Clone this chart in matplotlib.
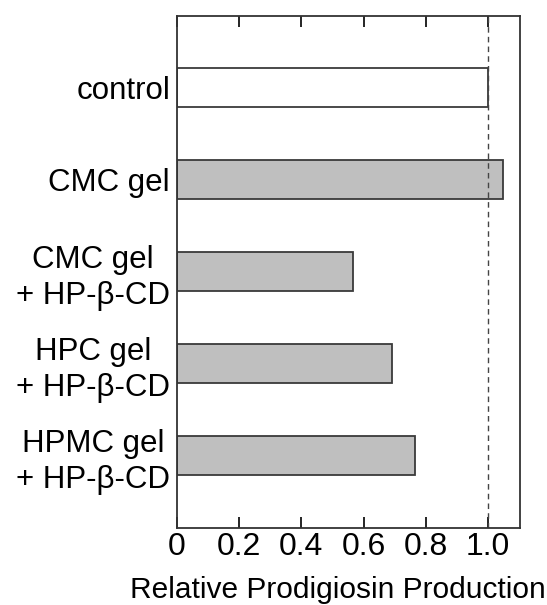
import matplotlib
matplotlib.use('Agg')
import matplotlib.pyplot as plt

plt.rcParams['font.family'] = ['Liberation Sans', 'DejaVu Sans']

# Data (top to bottom)
labels = ['control', 'CMC gel', 'CMC gel\n+ HP-β-CD', 'HPC gel\n+ HP-β-CD', 'HPMC gel\n+ HP-β-CD']
values = [1.0, 1.048, 0.566, 0.69, 0.765]
colors = ['white', '#bfbfbf', '#bfbfbf', '#bfbfbf', '#bfbfbf']
xticks = [0, 0.2, 0.4, 0.6, 0.8, 1.0]
xticklabels = ['0', '0.2', '0.4', '0.6', '0.8', '1.0']

fig = plt.figure(figsize=(5.47, 6.05), dpi=100)
ax = fig.add_axes([0.3236, 0.1273, 0.6270, 0.8463])

pos = list(range(len(labels)))
ax.barh(pos, values, height=0.43, color=colors, edgecolor='#3a3a3a', linewidth=1.3)

# reference line at 1.0
ax.axvline(1.0, color='#444444', linestyle=(0, (4, 3)), linewidth=1.0)

ax.set_xlim(0, 1.103)
ax.set_ylim(4.79, -0.78)

ax.set_yticks(pos)
ax.set_yticklabels(labels, fontsize=22.5, multialignment='center', linespacing=1.25)
ax.tick_params(axis='y', length=0, pad=5)

ax.set_xticks(xticks)
ax.set_xticklabels(xticklabels, fontsize=23)
ax.tick_params(axis='x', direction='in', top=True, length=8, width=1.2, pad=3)

# x label sits a bit left of the axes centre in the original
fig.text(338 / 547, 0.012, 'Relative Prodigiosin Production', fontsize=21.5,
         ha='center', va='baseline')

for s in ax.spines.values():
    s.set_linewidth(1.3)
    s.set_color('#333333')

fig.savefig('out.png', dpi=100)
